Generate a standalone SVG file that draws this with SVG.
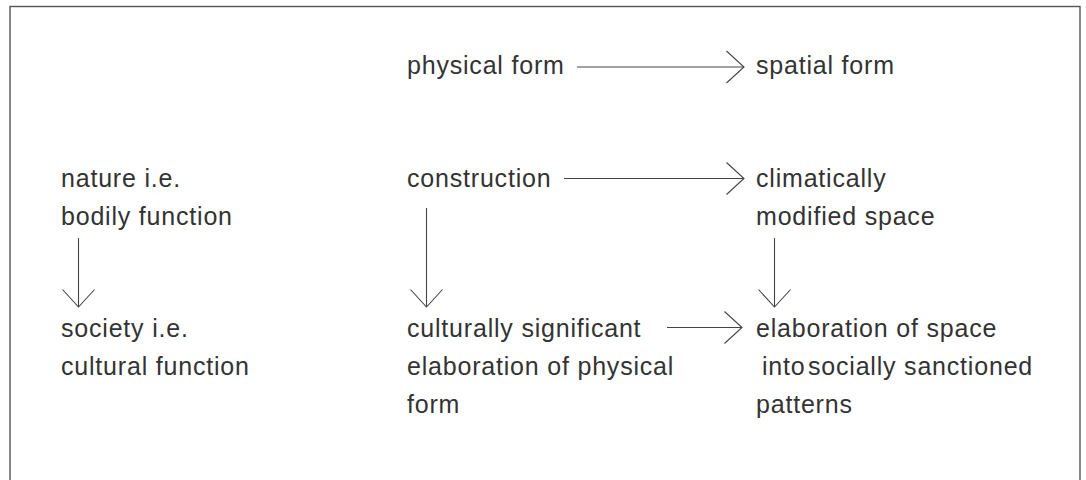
<svg xmlns="http://www.w3.org/2000/svg" width="1086" height="480" viewBox="0 0 1086 480">
<style>
text{font-family:"Liberation Sans",Arial,sans-serif;font-size:25px;letter-spacing:0.8px;fill:#333}
.c{stroke:#444;stroke-width:1.1;fill:none}
.frame{stroke:#555;stroke-width:1.4;fill:none}
</style>
<defs>
<marker id="ah" markerUnits="userSpaceOnUse" viewBox="-20 -18 22 36" refX="0" refY="0" markerWidth="22" markerHeight="36" orient="auto" overflow="visible">
<path d="M-17.5,-16 L0,0 L-17.5,16" fill="none" stroke="#444" stroke-width="1.1"/>
</marker>
</defs>
<rect class="frame" x="10" y="6.5" width="1070" height="520" fill="#fff"/>
<g id="connectors">
<line class="c" x1="577" y1="67" x2="744" y2="67" marker-end="url(#ah)"/>
<line class="c" x1="564" y1="178.5" x2="744" y2="178.5" marker-end="url(#ah)"/>
<line class="c" x1="667" y1="327.5" x2="742" y2="327.5" marker-end="url(#ah)"/>
<line class="c" x1="78.5" y1="238" x2="78.5" y2="307" marker-end="url(#ah)"/>
<line class="c" x1="426.5" y1="208" x2="426.5" y2="307" marker-end="url(#ah)"/>
<line class="c" x1="774.5" y1="238" x2="774.5" y2="307" marker-end="url(#ah)"/>
</g>
<g id="physical-form"><text x="407" y="74">physical form</text></g>
<g id="spatial-form"><text x="756" y="74">spatial form</text></g>
<g id="nature"><text x="61" y="187">nature i.e.</text><text x="61" y="225">bodily function</text></g>
<g id="construction"><text x="407" y="187">construction</text></g>
<g id="climatically"><text x="756" y="187">climatically</text><text x="756" y="225">modified space</text></g>
<g id="society"><text x="61" y="337">society i.e.</text><text x="61" y="375">cultural function</text></g>
<g id="culturally"><text x="407" y="337">culturally significant</text><text x="407" y="375">elaboration of physical</text><text x="407" y="413">form</text></g>
<g id="elaboration"><text x="756" y="337">elaboration of space</text><text y="375"><tspan x="762">into</tspan><tspan x="808">socially sanctioned</tspan></text><text x="756" y="413">patterns</text></g>
</svg>
